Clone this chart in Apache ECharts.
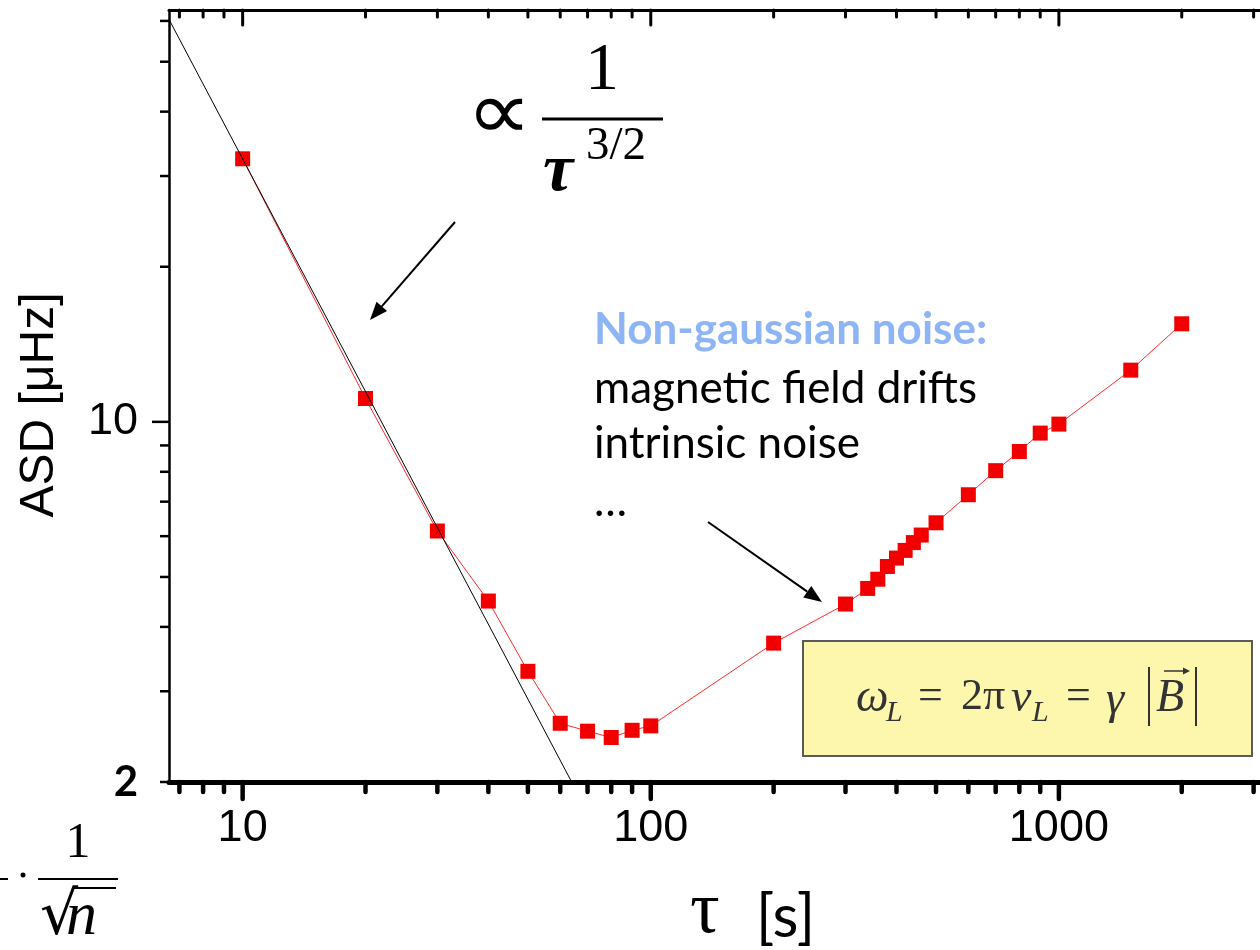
<!DOCTYPE html>
<html><head><meta charset="utf-8">
<script src="https://cdn.jsdelivr.net/npm/echarts@6/dist/echarts.min.js"></script>
<style>html,body{margin:0;padding:0;background:#fff}#c{width:1260px;height:950px}</style>
</head><body><div id="c"></div>
<script>
// ---- data ----
const tau = [10,20,30,40,50,60,70,80,90,100,200,300,340,360,380,400,420,440,460,500,600,700,800,900,1000,1500,2000];
const asd = [32.4,11.1,6.14,4.49,3.28,2.60,2.51,2.44,2.52,2.57,3.72,4.43,4.75,4.95,5.24,5.44,5.63,5.83,6.03,6.37,7.22,8.04,8.76,9.51,9.90,12.6,15.5];
const fitTau = [6.6, 64];
const fitAsd = [60.4, 2];
const xRange = [6.6, 3110];
const yRange = [2, 63];
const xTickLabels = [10, 100, 1000];
const yTickLabels = [2, 10];
const xMajorTicks = [10, 100, 1000];
const xMinorTicks = [7,8,9,20,30,40,50,60,70,80,90,200,300,400,500,600,700,800,900,2000,3000];
const yMajorTicks = [10];
const yMinorTicks = [2,3,4,5,6,7,8,9,20,30,40,50,60];

const chart = echarts.init(document.getElementById('c'));

function xTicks(values, side, len, width) {
  return {
    type: 'custom', silent: true, clip: false, z: 5,
    data: values.map(v => [v, yRange[0]]),
    renderItem: (params, api) => {
      const cs = params.coordSys;
      const px = api.coord([api.value(0), yRange[0]])[0];
      const y1 = side === 'bottom' ? cs.y + cs.height : cs.y;
      return {type: 'line', shape: {x1: px, y1: y1, x2: px, y2: y1 + len},
        style: {stroke: '#000', lineWidth: width, lineCap: 'round'}};
    }
  };
}
function yTicks(values, len, width) {
  return {
    type: 'custom', silent: true, clip: false, z: 5,
    data: values.map(v => [xRange[0], v]),
    renderItem: (params, api) => {
      const cs = params.coordSys;
      const py = api.coord([xRange[0], api.value(1)])[1];
      return {type: 'line', shape: {x1: cs.x, y1: py, x2: cs.x - len, y2: py},
        style: {stroke: '#000', lineWidth: width}};
    }
  };
}
function arrow(x1, y1, x2, y2, head, wid, lw, color) {
  const a = Math.atan2(y2 - y1, x2 - x1);
  const bx = x2 - head * Math.cos(a), by = y2 - head * Math.sin(a);
  const px = -Math.sin(a) * wid, py = Math.cos(a) * wid;
  return [
    {type: 'line', shape: {x1: x1, y1: y1, x2: bx, y2: by}, style: {stroke: color || '#000', lineWidth: lw || 2}},
    {type: 'polygon', shape: {points: [[x2, y2], [bx + px, by + py], [bx - px, by - py]]}, style: {fill: color || '#000'}}
  ];
}
function txt(x, y, s, font, opts) {
  return {type: 'text', x: x, y: y,
    style: Object.assign({text: s, font: font, fill: '#000', align: 'left', verticalAlign: 'middle'}, (opts || {}))};
}

const serif = '"Liberation Serif", "DejaVu Serif", serif';
const sans = 'Lato, "Open Sans", sans-serif';
const fc = {fill: '#333'};

const option = {
  animation: false,
  backgroundColor: '#fff',
  grid: {left: 169, right: 0, top: 10, bottom: 168},
  xAxis: [{
    type: 'log', min: xRange[0], max: xRange[1], position: 'bottom',
    axisLine: {show: true, lineStyle: {color: '#000', width: 5}},
    axisTick: {show: false}, splitLine: {show: false}, minorTick: {show: false},
    axisLabel: {
      show: true, margin: 24, color: '#000', fontSize: 45, fontFamily: '"Liberation Sans", Arial, sans-serif',
      showMinLabel: false, showMaxLabel: false,
      formatter: v => xTickLabels.some(t => Math.abs(t - v) / t < 1e-6) ? String(Math.round(v)) : ''
    }
  }, {
    type: 'log', min: xRange[0], max: xRange[1], position: 'top',
    axisLine: {show: true, lineStyle: {color: '#000', width: 3}},
    axisTick: {show: false}, axisLabel: {show: false}, splitLine: {show: false}
  }],
  yAxis: {
    type: 'log', min: yRange[0], max: yRange[1],
    axisLine: {show: true, lineStyle: {color: '#000', width: 2.5}},
    axisTick: {show: false}, splitLine: {show: false}, minorTick: {show: false},
    axisLabel: {
      show: true, margin: 31, color: '#000', fontSize: 45, fontFamily: '"Liberation Sans", Arial, sans-serif',
      showMaxLabel: false,
      formatter: v => {
        const hit = yTickLabels.find(t => Math.abs(t - v) / t < 1e-6);
        if (hit === undefined) return '';
        return hit === 2 ? '{b|2}' : String(hit);
      },
      rich: {b: {fontSize: 42, fontWeight: 'bold', fontFamily: sans, color: '#000'}}
    }
  },
  series: [
    {
      name: 'ASD', type: 'line', z: 3,
      data: tau.map((t, i) => [t, asd[i]]),
      symbol: 'rect', symbolSize: 15,
      itemStyle: {color: '#f20000'},
      lineStyle: {color: '#ff2a2a', width: 1}
    },
    {
      name: 'fit', type: 'line', z: 4, symbol: 'none',
      data: fitTau.map((t, i) => [t, fitAsd[i]]),
      lineStyle: {color: '#000', width: 1}
    },
    xTicks(xMajorTicks, 'bottom', 17, 4.5),
    xTicks(xMinorTicks, 'bottom', 10, 4.5),
    xTicks(xMajorTicks, 'top', 15, 3),
    xTicks(xMinorTicks, 'top', 7, 3),
    yTicks(yMajorTicks, 17, 2.5),
    yTicks(yMinorTicks, 9, 2.5)
  ],
  graphic: [
    // y-axis title
    {type: 'text', x: 40, y: 405, rotation: Math.PI / 2,
      style: {text: 'ASD [μHz]', font: '48px "Liberation Sans", Arial, sans-serif', fill: '#000', align: 'center', verticalAlign: 'middle'}},
    // x-axis title
    txt(690, 913, 'τ', '74px ' + serif),
    txt(756, 918, '[s]', '60px ' + sans),
    // proportional annotation
    {type: 'text', x: 499, y: 117, scaleX: 2.0, scaleY: 1.8,
      style: {text: '∝', font: '46px "DejaVu Sans", sans-serif', fill: '#000', align: 'center', verticalAlign: 'middle'}},
    txt(602, 71, '1', '68px ' + serif, {align: 'center'}),
    {type: 'line', shape: {x1: 542, y1: 119, x2: 663, y2: 119}, style: {stroke: '#000', lineWidth: 3}},
    txt(543, 172, 'τ', 'italic bold 68px ' + serif),
    txt(586, 147, '3/2', '47px ' + serif),
    ...arrow(455, 222, 370, 320, 18, 7),
    // noise text
    txt(594, 330, 'Non-gaussian noise:', 'bold 44px ' + sans, {fill: '#8db4f4'}),
    txt(594, 389, 'magnetic field drifts', '44px ' + sans),
    txt(594, 444, 'intrinsic noise', '44px ' + sans),
    txt(594, 502, '…', '44px ' + sans),
    ...arrow(708, 522, 822, 602, 18, 7),
    // formula box
    {type: 'rect', shape: {x: 803, y: 641, width: 449, height: 115}, style: {fill: '#fdf7ae', stroke: '#5a5a5a', lineWidth: 2}},
    txt(856, 699, 'ω', 'italic 46px ' + serif, fc),
    txt(886, 713, 'L', 'italic 30px ' + serif, fc),
    txt(918, 697, '=', '44px ' + serif, fc),
    txt(961, 697, '2π', '44px ' + serif, fc),
    txt(1011, 699, 'ν', 'italic 46px ' + serif, fc),
    txt(1032, 713, 'L', 'italic 30px ' + serif, fc),
    txt(1066, 697, '=', '44px ' + serif, fc),
    txt(1106, 701, 'γ', 'italic 46px ' + serif, fc),
    {type: 'line', shape: {x1: 1149, y1: 667, x2: 1149, y2: 726}, style: {stroke: '#333', lineWidth: 2}},
    txt(1156, 699, 'B', 'italic 46px ' + serif, fc),
    ...arrow(1164, 671, 1190, 671, 7, 3.5, 1.5, '#333'),
    {type: 'line', shape: {x1: 1196, y1: 667, x2: 1196, y2: 726}, style: {stroke: '#333', lineWidth: 2}},
    // bottom-left fragment 1/sqrt(n)
    {type: 'line', shape: {x1: 0, y1: 879, x2: 8, y2: 879}, style: {stroke: '#000', lineWidth: 2}},
    {type: 'circle', shape: {cx: 23, cy: 875, r: 2.5}, style: {fill: '#000'}},
    {type: 'line', shape: {x1: 38, y1: 879, x2: 118, y2: 879}, style: {stroke: '#000', lineWidth: 2}},
    txt(78, 844, '1', '50px ' + serif, {align: 'center'}),
    txt(40, 918, '√', '60px "DejaVu Serif", serif'),
    {type: 'line', shape: {x1: 74, y1: 888, x2: 116, y2: 888}, style: {stroke: '#000', lineWidth: 2}},
    txt(66, 918, 'n', 'italic 62px ' + serif)
  ]
};
chart.setOption(option);
</script>
</body></html>
